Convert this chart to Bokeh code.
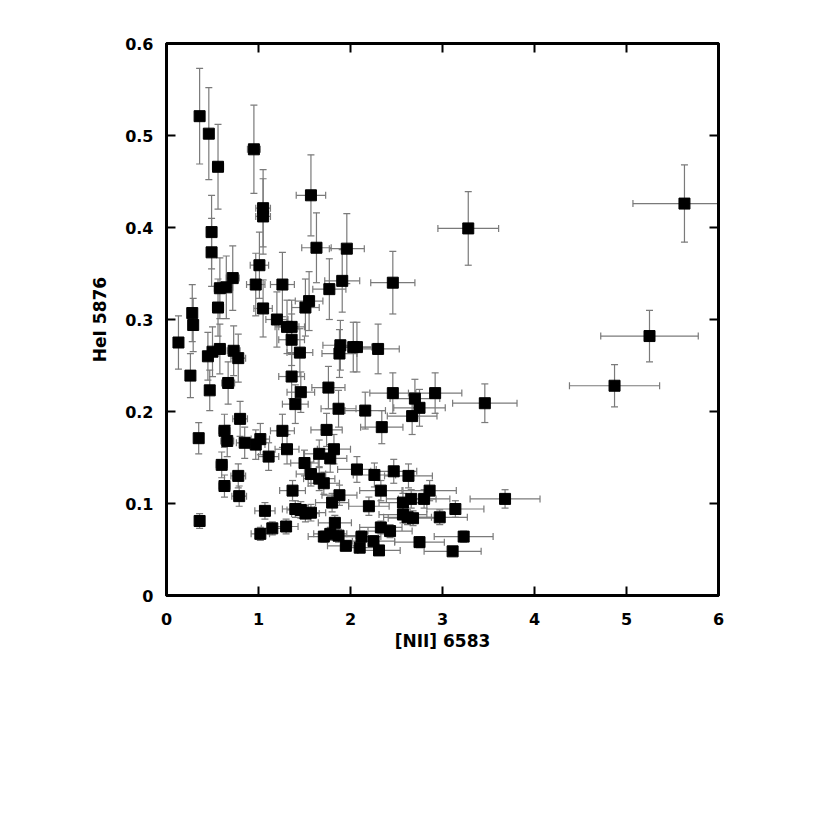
from bokeh.plotting import figure
from bokeh.models import (ColumnDataSource, Range1d, LinearAxis, FixedTicker,
                          CustomJSTickFormatter)
from bokeh.embed import file_html
from bokeh.resources import INLINE
import math

# [NII] 6583 values (x), HeI 5876 values (y) and their uncertainties
nii = [0.36, 0.46, 0.56, 0.95, 1.05, 1.05, 1.57, 0.49, 0.49, 1.63,
       1.96, 1.01, 0.72, 0.58, 0.65, 0.97, 1.26, 1.91, 1.77, 0.56,
       1.05, 1.51, 1.55, 0.28, 0.29, 1.20, 1.31, 1.36, 0.13, 1.36,
       1.45, 1.89, 1.88, 2.03, 2.07, 0.45, 0.50, 0.58, 0.73, 0.78,
       0.26, 0.47, 0.67, 1.36, 1.46, 1.76, 1.40, 1.87, 0.80, 0.63,
       0.66, 0.35, 0.85, 0.97, 1.02, 1.26, 1.31, 1.11, 1.74, 1.82,
       1.78, 1.66, 1.50, 0.60, 0.78, 1.57, 1.66, 1.71, 2.07, 0.63,
       0.79, 1.37, 1.88, 1.80, 1.07, 1.40, 1.46, 1.51, 1.57, 0.36,
       1.02, 1.15, 1.30, 1.83, 1.71, 1.78, 1.87, 1.95, 3.28, 2.46,
       2.30, 2.46, 2.70, 2.92, 2.75, 2.67, 3.46, 2.16, 2.34, 2.26,
       2.47, 2.63, 2.33, 2.86, 2.66, 2.80, 2.57, 2.20, 3.14, 3.68,
       2.57, 2.62, 2.68, 2.97, 2.33, 2.43, 2.12, 2.10, 2.25, 2.31,
       2.75, 3.23, 3.11, 5.63, 5.25, 4.87]

hei = [0.521, 0.502, 0.466, 0.485, 0.421, 0.412, 0.435, 0.395, 0.373, 0.378,
       0.377, 0.359, 0.345, 0.334, 0.335, 0.338, 0.338, 0.342, 0.333, 0.313,
       0.312, 0.313, 0.320, 0.307, 0.294, 0.300, 0.292, 0.292, 0.275, 0.278,
       0.264, 0.272, 0.263, 0.270, 0.270, 0.260, 0.265, 0.268, 0.266, 0.258,
       0.239, 0.223, 0.231, 0.238, 0.221, 0.226, 0.208, 0.203, 0.192, 0.179,
       0.168, 0.171, 0.166, 0.164, 0.170, 0.179, 0.159, 0.151, 0.180, 0.159,
       0.149, 0.154, 0.144, 0.142, 0.130, 0.132, 0.127, 0.122, 0.137, 0.119,
       0.108, 0.114, 0.109, 0.101, 0.092, 0.094, 0.093, 0.089, 0.090, 0.081,
       0.067, 0.073, 0.075, 0.079, 0.064, 0.067, 0.065, 0.054, 0.399, 0.340,
       0.268, 0.220, 0.214, 0.220, 0.204, 0.195, 0.209, 0.201, 0.183, 0.131,
       0.135, 0.130, 0.114, 0.114, 0.105, 0.105, 0.101, 0.097, 0.094, 0.105,
       0.088, 0.085, 0.084, 0.085, 0.074, 0.070, 0.064, 0.052, 0.059, 0.049,
       0.058, 0.064, 0.048, 0.426, 0.282, 0.228]

nii_err = [0.04, 0.05, 0.06, 0.07, 0.08, 0.08, 0.16, 0.05, 0.05, 0.16,
           0.19, 0.10, 0.07, 0.06, 0.07, 0.10, 0.13, 0.19, 0.18, 0.06,
           0.10, 0.15, 0.15, 0.03, 0.03, 0.12, 0.13, 0.14, 0.02, 0.14,
           0.14, 0.19, 0.19, 0.20, 0.21, 0.05, 0.05, 0.06, 0.07, 0.08,
           0.03, 0.05, 0.07, 0.14, 0.15, 0.18, 0.14, 0.19, 0.08, 0.06,
           0.07, 0.04, 0.09, 0.10, 0.10, 0.13, 0.13, 0.11, 0.17, 0.18,
           0.18, 0.17, 0.15, 0.06, 0.08, 0.16, 0.17, 0.17, 0.21, 0.06,
           0.08, 0.14, 0.19, 0.18, 0.11, 0.14, 0.15, 0.15, 0.16, 0.04,
           0.10, 0.12, 0.13, 0.18, 0.17, 0.18, 0.19, 0.20, 0.33, 0.24,
           0.23, 0.25, 0.27, 0.29, 0.28, 0.27, 0.35, 0.22, 0.23, 0.23,
           0.25, 0.26, 0.23, 0.29, 0.27, 0.28, 0.26, 0.22, 0.31, 0.38,
           0.26, 0.26, 0.27, 0.30, 0.23, 0.24, 0.21, 0.21, 0.23, 0.23,
           0.27, 0.32, 0.31, 0.56, 0.53, 0.49]

hei_err = [0.052, 0.050, 0.046, 0.048, 0.042, 0.041, 0.044, 0.040, 0.037, 0.038,
           0.038, 0.036, 0.035, 0.033, 0.034, 0.034, 0.035, 0.034, 0.033, 0.031,
           0.031, 0.031, 0.032, 0.031, 0.029, 0.030, 0.029, 0.029, 0.029, 0.028,
           0.026, 0.027, 0.026, 0.027, 0.027, 0.026, 0.027, 0.027, 0.027, 0.026,
           0.024, 0.022, 0.023, 0.024, 0.022, 0.023, 0.021, 0.020, 0.019, 0.018,
           0.017, 0.017, 0.017, 0.016, 0.017, 0.018, 0.016, 0.015, 0.018, 0.016,
           0.015, 0.015, 0.014, 0.014, 0.013, 0.013, 0.013, 0.012, 0.014, 0.012,
           0.011, 0.011, 0.011, 0.010, 0.009, 0.009, 0.009, 0.009, 0.009, 0.008,
           0.007, 0.007, 0.008, 0.008, 0.006, 0.007, 0.007, 0.005, 0.040, 0.034,
           0.027, 0.022, 0.021, 0.022, 0.020, 0.020, 0.021, 0.020, 0.018, 0.013,
           0.013, 0.013, 0.011, 0.011, 0.010, 0.010, 0.010, 0.010, 0.009, 0.010,
           0.009, 0.008, 0.008, 0.008, 0.007, 0.007, 0.006, 0.005, 0.006, 0.005,
           0.006, 0.006, 0.005, 0.042, 0.028, 0.023]

x_ticks = [0, 1, 2, 3, 4, 5, 6]
y_ticks = [0, 0.1, 0.2, 0.3, 0.4, 0.5, 0.6]

FONT = "DejaVu Sans"
ERR = "#7a7a7a"

src = ColumnDataSource(dict(
    x=nii, y=hei,
    xl=[a - e for a, e in zip(nii, nii_err)],
    xu=[a + e for a, e in zip(nii, nii_err)],
    yl=[a - e for a, e in zip(hei, hei_err)],
    yu=[a + e for a, e in zip(hei, hei_err)],
))

p = figure(frame_width=552, frame_height=552,
           x_range=Range1d(0, 6), y_range=Range1d(0, 0.6),
           output_backend="svg", toolbar_location=None,
           min_border_left=166, min_border_top=43,
           min_border_right=40, min_border_bottom=70)
p.background_fill_color = "white"
p.border_fill_color = "white"
p.xgrid.visible = False
p.ygrid.visible = False
p.outline_line_color = "black"
p.outline_line_width = 3

# error bars
p.segment(x0="xl", y0="y", x1="xu", y1="y", source=src, line_color=ERR, line_width=1.2)
p.segment(x0="x", y0="yl", x1="x", y1="yu", source=src, line_color=ERR, line_width=1.2)
# caps
p.scatter(x="x", y="yl", source=src, marker="dash", size=7, line_color=ERR, line_width=1.2)
p.scatter(x="x", y="yu", source=src, marker="dash", size=7, line_color=ERR, line_width=1.2)
p.scatter(x="xl", y="y", source=src, marker="dash", size=7, angle=math.pi / 2,
          line_color=ERR, line_width=1.2)
p.scatter(x="xu", y="y", source=src, marker="dash", size=7, angle=math.pi / 2,
          line_color=ERR, line_width=1.2)
# points
p.scatter(x="x", y="y", source=src, marker="square", size=11,
          fill_color="black", line_color="black")

fmt = CustomJSTickFormatter(code="return Number(tick.toFixed(2)).toString();")

p.xaxis.ticker = FixedTicker(ticks=x_ticks)
p.yaxis.ticker = FixedTicker(ticks=y_ticks)
p.xaxis.formatter = fmt
p.yaxis.formatter = fmt

for ax in (p.xaxis[0], p.yaxis[0]):
    ax.major_tick_in = 9
    ax.major_tick_out = 0
    ax.major_tick_line_width = 2
    ax.major_tick_line_color = "black"
    ax.minor_tick_line_color = None
    ax.axis_line_width = 3
    ax.axis_line_color = "black"
    ax.major_label_text_font = FONT
    ax.major_label_text_font_style = "bold"
    ax.major_label_text_font_size = "16px"
    ax.major_label_text_color = "black"
    ax.axis_label_text_font = FONT
    ax.axis_label_text_font_style = "bold"
    ax.axis_label_text_font_size = "17px"
    ax.axis_label_text_color = "black"

p.xaxis.axis_label = "[NII] 6583"
p.yaxis.axis_label = "HeI 5876"
p.xaxis.major_label_standoff = 17
p.xaxis.axis_label_standoff = 3
p.yaxis.major_label_standoff = 13
p.yaxis.axis_label_standoff = 12

top = LinearAxis(ticker=FixedTicker(ticks=x_ticks),
                 major_label_overrides={t: "" for t in x_ticks})
right = LinearAxis(ticker=FixedTicker(ticks=y_ticks),
                   major_label_overrides={t: "" for t in y_ticks})
for ax in (top, right):
    ax.major_tick_in = 9
    ax.major_tick_out = 0
    ax.major_tick_line_width = 2
    ax.minor_tick_line_color = None
    ax.axis_line_width = 3
    ax.axis_line_color = "black"
    ax.major_label_text_font_size = "0px"
    ax.major_label_standoff = 0
p.add_layout(top, "above")
p.add_layout(right, "right")

open("out.html", "w").write(file_html(p, INLINE))
